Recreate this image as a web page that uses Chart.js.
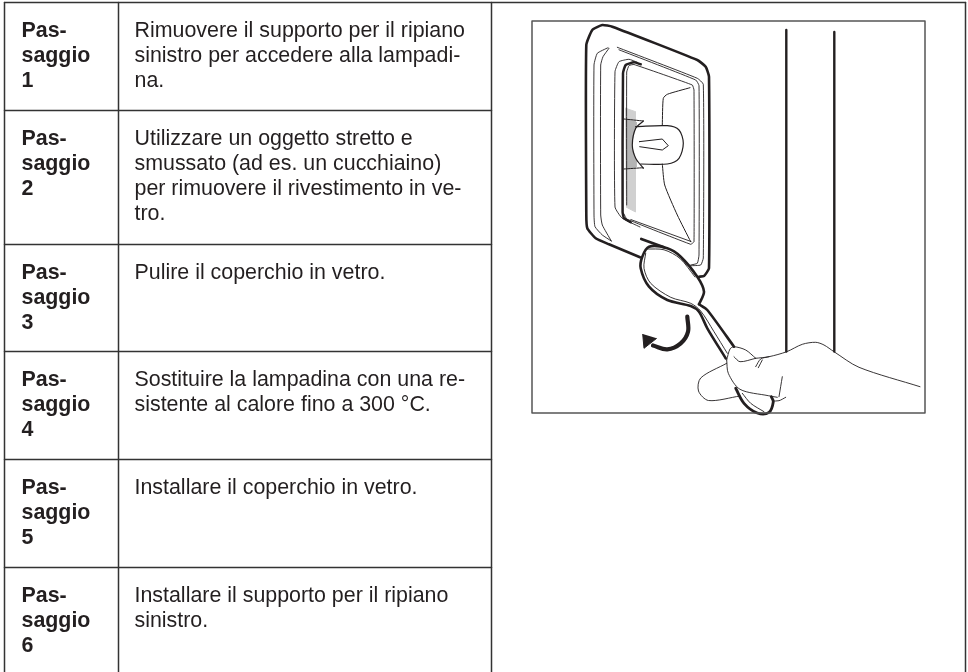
<!DOCTYPE html>
<html>
<head>
<meta charset="utf-8">
<title>Passaggi</title>
<style>
  html, body { margin: 0; padding: 0; background: #fff; }
  canvas { display: block; }
</style>
<script src="https://cdn.jsdelivr.net/npm/chart.js@4"></script>
</head>
<body>
<canvas id="chart" width="968" height="672"></canvas>
<script>
// table content
var stepLabels = [
  ["Pas-", "saggio", "1"], ["Pas-", "saggio", "2"], ["Pas-", "saggio", "3"],
  ["Pas-", "saggio", "4"], ["Pas-", "saggio", "5"], ["Pas-", "saggio", "6"]
];
var stepTexts = [
  ["Rimuovere il supporto per il ripiano", "sinistro per accedere alla lampadi-", "na."],
  ["Utilizzare un oggetto stretto e", "smussato (ad es. un cucchiaino)", "per rimuovere il rivestimento in ve-", "tro."],
  ["Pulire il coperchio in vetro."],
  ["Sostituire la lampadina con una re-", "sistente al calore fino a 300 °C."],
  ["Installare il coperchio in vetro."],
  ["Installare il supporto per il ripiano", "sinistro."]
];
var rowLines = [2.5, 110.5, 244.5, 351.5, 459.5, 567.5];
var colLines = [4.5, 118.5, 491.5, 965.5];

// illustration outlines, as [x, y] on the page scale
var boxOutline = [[532, 21], [925, 21], [925, 413], [532, 413], [532, 21]];
var wallLeft = [[786.3, 30], [786.3, 351.5]];
var wallRight = [[834.3, 32], [834.3, 351.5]];

var frameOuter = [[640, 257.3], [609, 244.3], [595.7, 238.3], [587.3, 228.3], [586.3, 215], [586.3, 45], [592.3, 30], [602.3, 25], [612.3, 26.7], [697.3, 60], [705.7, 66.7], [709, 76.7], [709, 268.3], [704, 276], [699, 276.7]];
var frameThinA = [[611.3, 241], [602.3, 235], [595, 226.7], [594, 215], [594, 65], [597.3, 53.3], [608, 47.7]];
var frameThinB = [[611.3, 241], [602.3, 225], [600.7, 215], [600.7, 65], [603, 56.7], [609, 48.3]];
var frameThinC = [[617.3, 47.3], [697.3, 78.3], [703.3, 84.3], [703.3, 258], [700.7, 265], [690.7, 265.7]];
var frameThinD = [[619, 49.8], [695.7, 80], [699, 85.7], [699, 255], [697.3, 263.3], [690.7, 265]];
var windowOuter = [[640, 227], [622, 218], [615, 207], [615, 71.7], [619, 61.7], [629, 59.3], [637.3, 62.3]];
var windowThick = [[630.7, 222.3], [624, 218.3], [622.6, 212], [623, 73.3], [625.7, 65], [634, 62.3], [640.7, 64.3]];
var windowInner = [[626.7, 205], [626.7, 72], [629, 65.5], [634, 64.5], [692.3, 85], [694, 90], [694, 241.7], [690.7, 244.3], [626.7, 219], [624, 214]];
var windowInner2 = [[630.7, 219.5], [691, 241.5]];
var grayStrip = [[625, 108], [635.5, 111.7], [635.5, 212], [626, 207]];
var grayDark = [[626, 120], [636, 122], [636, 167], [626, 168]];
var latchFill = [[643.3, 121], [636, 128], [632.5, 145], [636, 158], [643.3, 168], [662, 164], [662, 126]];
var latchTop = [[624, 119], [643.3, 121]];
var latchBottom = [[624, 169], [643.3, 167.7]];
var latchCurve = [[643.3, 121], [635.7, 128.3], [632.3, 145], [635.7, 158.3], [643.3, 168.3]];
var latchLoop = [[635.7, 126.7], [667.3, 125.7], [679, 130], [683.3, 143.3], [679, 158.3], [667.3, 164], [640.7, 164]];
var latchSlot = [[639, 141.7], [662.3, 139], [668.3, 145.7], [662.3, 150], [639.7, 146.7]];
var recessTop = [[690, 87.7], [667.3, 94.3], [663.3, 98.3], [662.3, 125]];
var recessBottom = [[662.3, 164], [664.7, 185], [677.3, 215], [690.7, 241.7]];

var spoonLip = [[641.3, 239], [664, 247.3]];
var spoonBowl = [[699, 304.3], [704, 291.7], [697.3, 276.7], [680.7, 256.7], [667.3, 248.3], [649, 246.7], [642.3, 256.7], [640.7, 268.3], [649, 286.7], [667.3, 300], [690.7, 306], [699, 311.7], [707.3, 328.3], [725.7, 358.3]];
var spoonHandle = [[699, 304.3], [707.3, 310], [734, 346.7]];
var spoonInner = [[645.7, 253.3], [644, 268.3], [650.7, 283.3], [670.7, 297.3], [690.7, 303.3], [700.7, 311], [714, 331.7], [727.3, 353.3]];
var spoonInnerTop = [[647, 249], [664, 249.8], [680, 258.5], [695, 277]];
var spoonTip = [[735.7, 388.3], [744, 403.3], [757.3, 413], [769, 412.3], [773.3, 401.7], [771.3, 396.7]];
var spoonTipInner = [[742.3, 393.3], [750.7, 403.3], [764, 411.7]];

var arrowBody = [[687.3, 316.7], [688, 331.7], [680.7, 343.3], [667.3, 349.3], [653, 345.5]];
var arrowHead = [[642.7, 334], [644, 348.3], [656.7, 338.3]];

var thumb = [[726.7, 363.3], [700.7, 378], [698.5, 391], [708.5, 400.5], [740, 396]];
var palm = [[726.7, 360], [728.3, 373.3], [740, 389.3], [768.3, 395.7], [777.3, 397.3]];
var fingerTop = [[726.7, 360], [730, 349], [734, 346.7], [745.7, 350], [755.7, 358.3]];
var fingerFold = [[734, 356.7], [740, 361.7], [755.7, 358.3]];
var armTop = [[755.7, 358.3], [769, 356.7], [786.7, 351.7], [802.3, 344.3], [815.7, 342.3], [824, 345], [834, 351.7], [859, 367.3], [920, 386.7]];
var creaseA = [[755.7, 366.7], [760.7, 359], [769, 356.7]];
var creaseB = [[758.3, 367.7], [762.3, 360]];
var wristA = [[782.3, 376.7], [779, 396.7]];
var wristB = [[772.3, 401], [779, 400.7], [785.7, 397.3]];

function toPoints(list) {
  return list.map(function (p) {
    return { x: p[0], y: p[1] };
  });
}

/**
 * Builds one stroke of the drawing as a line dataset.
 *
 * @param list
 * @param width
 * @param color
 * @param tension
 */
function stroke(list, width, color, tension) {
  return {
    data: toPoints(list),
    showLine: true,
    fill: false,
    borderColor: color,
    borderWidth: width,
    tension: tension || 0,
    pointRadius: 0,
    borderCapStyle: "round",
    borderJoinStyle: "round"
  };
}

function area(list, color) {
  return {
    data: toPoints(list),
    showLine: true,
    fill: "shape",
    backgroundColor: color,
    borderColor: color,
    borderWidth: 1,
    pointRadius: 0
  };
}

var ink = "#231f20";
var strokes = [];

// table grid
rowLines.forEach(function (y, i) {
  var end = i === 0 ? colLines[3] : colLines[2];
  strokes.push(stroke([[colLines[0], y], [end, y]], 1.5, "#333333"));
});
colLines.forEach(function (x) {
  strokes.push(stroke([[x, rowLines[0]], [x, 672]], 1.5, "#333333"));
});

// figure
strokes.push(stroke(boxOutline, 1.5, "#555555"));
strokes.push(stroke(wallLeft, 2.4, ink));
strokes.push(stroke(wallRight, 2.4, ink));
strokes.push(stroke(frameOuter, 2.6, ink, 0.15));
[frameThinA, frameThinB, frameThinC, frameThinD, windowOuter].forEach(function (l) {
  strokes.push(stroke(l, 0.9, ink, 0.15));
});
strokes.push(stroke(windowThick, 2.5, ink, 0.15));
strokes.push(stroke(windowInner, 0.9, ink, 0.1));
strokes.push(stroke(windowInner2, 0.9, ink));
[latchTop, latchBottom, recessTop, recessBottom].forEach(function (l) {
  strokes.push(stroke(l, 1, ink, 0.2));
});
strokes.push(stroke(latchCurve, 1.2, ink, 0.3));
strokes.push(stroke(latchLoop, 1.2, ink, 0.3));
strokes.push(stroke(latchSlot, 1, ink));
strokes.push(stroke(spoonLip, 2.8, ink));
strokes.push(stroke(spoonBowl, 2.6, ink, 0.3));
strokes.push(stroke(spoonHandle, 2.6, ink, 0.2));
strokes.push(stroke(spoonInner, 0.9, ink, 0.3));
strokes.push(stroke(spoonInnerTop, 0.9, ink, 0.3));
strokes.push(stroke(spoonTip, 2.8, ink, 0.35));
strokes.push(stroke(spoonTipInner, 0.9, ink, 0.3));
strokes.push(stroke(arrowBody, 4.2, ink, 0.35));
strokes.push(area(arrowHead, ink));
[thumb, palm, fingerTop, fingerFold, armTop, creaseA, creaseB, wristA, wristB].forEach(function (l) {
  strokes.push(stroke(l, 0.9, ink, 0.3));
});

// Chart.js paints the first dataset last, so the fills go at the end of the list
var datasets = strokes.concat([
  area(latchFill, "#ffffff"),
  area(grayDark, "#b4b4b4"),
  area(grayStrip, "#d0d0d0")
]);

// writes the table text, placed through the chart's scales
var tableText = {
  id: "tableText",
  afterDatasetsDraw: function (chart) {
    var ctx = chart.ctx;
    var xs = chart.scales.x;
    var ys = chart.scales.y;
    var lineGap = 25;
    ctx.save();
    ctx.fillStyle = ink;
    ctx.textBaseline = "alphabetic";
    stepLabels.forEach(function (lines, i) {
      var top = rowLines[i] + 34;
      ctx.font = "bold 21.4px 'Liberation Sans'";
      lines.forEach(function (t, j) {
        ctx.fillText(t, xs.getPixelForValue(21.5), ys.getPixelForValue(top + j * lineGap));
      });
      ctx.font = "21.4px 'Liberation Sans'";
      stepTexts[i].forEach(function (t, j) {
        ctx.fillText(t, xs.getPixelForValue(134.5), ys.getPixelForValue(top + j * lineGap));
      });
    });
    ctx.restore();
  }
};

new Chart(document.getElementById("chart"), {
  type: "scatter",
  data: { datasets: datasets },
  options: {
    responsive: false,
    animation: false,
    layout: { padding: 0 },
    plugins: { legend: { display: false }, tooltip: { enabled: false } },
    scales: {
      x: { type: "linear", min: 0, max: 968, display: false },
      y: { type: "linear", min: 0, max: 672, reverse: true, display: false }
    }
  },
  plugins: [tableText]
});
</script>
</body>
</html>
